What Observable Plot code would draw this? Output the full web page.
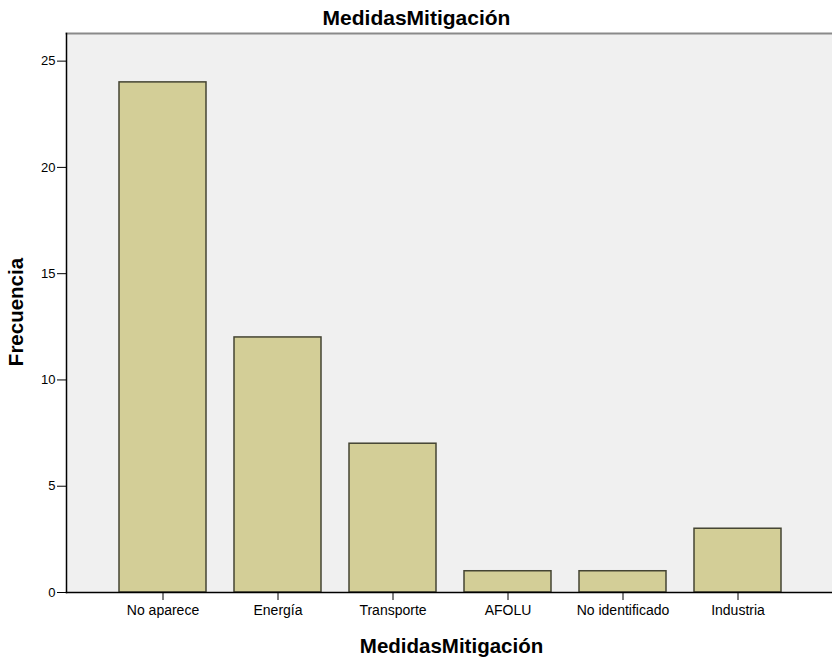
<!DOCTYPE html>
<html>
<head>
<meta charset="utf-8">
<script src="https://cdn.jsdelivr.net/npm/d3@7"></script>
<script src="https://cdn.jsdelivr.net/npm/@observablehq/plot@0.6"></script>
<style>
  html, body { margin: 0; padding: 0; background: #fff; }
  svg { display: block; }
</style>
</head>
<body>
<div id="chart"></div>
<script>
const categories = ["No aparece", "Energía", "Transporte", "AFOLU", "No identificado", "Industria"];
const frequencies = [24, 12, 7, 1, 1, 3];
const yTicks = [0, 5, 10, 15, 20, 25];
const titleText = "MedidasMitigación";
const xLabel = "MedidasMitigación";
const yLabel = "Frecuencia";

const data = categories.map((c, i) => ({category: c, value: frequencies[i]}));

const chart = Plot.plot({
  width: 832,
  height: 657,
  marginTop: 33,
  marginBottom: 65,
  marginLeft: 66,
  marginRight: 0,
  style: {fontFamily: "'Liberation Sans', Arial, sans-serif", fontSize: "13px", background: "#fff", color: "#000"},
  x: {domain: categories, range: [89.5, 811], padding: 0.247, label: null},
  y: {domain: [0, 26.3], ticks: yTicks, label: null},
  marks: [
    Plot.frame({fill: "#f0f0f0", stroke: null}),
    Plot.frame({anchor: "top", stroke: "#8a8a8a", strokeWidth: 2}),
    Plot.barY(data, {x: "category", y: "value", fill: "#d3ce97", stroke: "#444433", strokeWidth: 1.5}),
    Plot.axisY({ticks: yTicks, tickSize: 9, tickPadding: 2, fontSize: 13, label: null}),
    Plot.axisX({tickSize: 8, tickPadding: 5, fontSize: 14, label: null}),
    Plot.frame({anchor: "left", stroke: "#000", strokeWidth: 1.5}),
    Plot.frame({anchor: "bottom", stroke: "#000", strokeWidth: 1.5}),
    Plot.text([titleText], {frameAnchor: "top", dx: -33, dy: -9, lineAnchor: "bottom", fontSize: 21, fontWeight: "bold"}),
    Plot.text([xLabel], {frameAnchor: "bottom", dx: 2, dy: 60, lineAnchor: "bottom", fontSize: 20.5, fontWeight: "bold"}),
    Plot.text([yLabel], {frameAnchor: "left", textAnchor: "middle", dx: -44, dy: -1, rotate: -90, lineAnchor: "bottom", fontSize: 20.5, fontWeight: "bold"})
  ]
});
document.getElementById("chart").append(chart);
</script>
</body>
</html>
